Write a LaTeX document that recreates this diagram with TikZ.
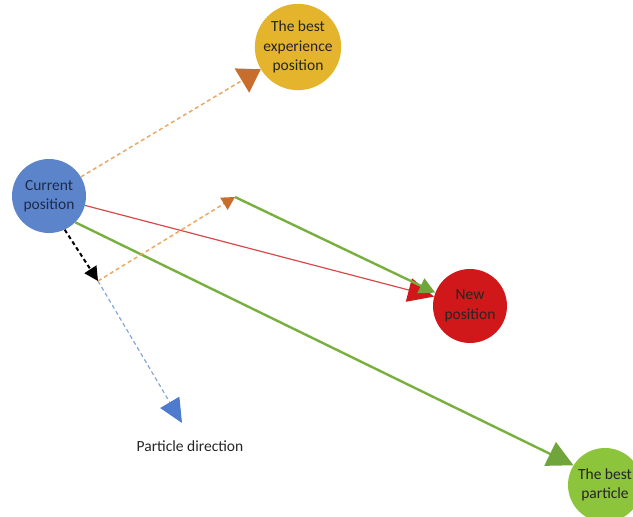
\documentclass[tikz,border=0pt]{standalone}
\usepackage{fontspec}
\setmainfont{Carlito}
\usetikzlibrary{arrows.meta}
\definecolor{cblue}{HTML}{5B84CB}
\definecolor{cyellow}{HTML}{E4B52C}
\definecolor{cred}{HTML}{D0181A}
\definecolor{cgreen}{HTML}{8CC43C}
\definecolor{gline}{HTML}{78B040}
\definecolor{lorange}{HTML}{E8A866}
\definecolor{dorange}{HTML}{C86E2C}
\definecolor{dgreen}{HTML}{6FA53A}
\definecolor{lblue}{HTML}{86A6DC}
\definecolor{tblue}{HTML}{4F7BCF}
\definecolor{lred}{HTML}{D84A4A}
\definecolor{txt}{HTML}{252525}
\definecolor{navytxt}{HTML}{1E2B4A}
\tikzset{
  ball/.style={circle, minimum size=74pt, inner sep=0pt, align=center, text=txt,
    font=\fontsize{15.5}{19.5}\selectfont},
  orangearrow/.style={draw=lorange, line width=1.5pt, dash pattern=on 4pt off 3pt,
    -{Triangle[length=22pt,width=28pt,fill=dorange,color=dorange]}},
  greenarrow/.style={draw=gline, line width=2.4pt,
    -{Triangle[length=16pt,width=16pt,fill=dgreen,color=dgreen]}},
}
\begin{document}
\begin{tikzpicture}[x=1pt,y=-1pt]
\useasboundingbox (0,0) rectangle (633,517);
\clip (0,0) rectangle (633,517);
\node[ball, fill=cblue, text=navytxt] (cur) at (49,196) {Current\\position};
\node[ball, fill=cyellow] (bexp) at (298,47) {The best\\experience\\position};
\node[ball, fill=cred] (new) at (470,306) {New\\position};
\node[ball, fill=cgreen] (bpart) at (605,485) {The best\\particle};
\coordinate (p1) at (98,281);
\coordinate (p2) at (182,423);
\coordinate (p3) at (235,197);
\node[font=\fontsize{15.5}{19.5}\selectfont, text=txt] (lab) at (190,446) {Particle direction};
% arrows
\draw[orangearrow] (cur) -- (bexp);
\draw[draw=lred, line width=1.2pt,
  -{Triangle[length=26pt,width=24pt,fill=cred,color=cred]}] (cur) -- (new);
\draw[greenarrow] (p3) -- (new.159);
\draw[greenarrow, -{Triangle[length=26pt,width=26pt,fill=dgreen,color=dgreen]}] (cur.-45) -- (bpart.148);
\draw[draw=lblue, line width=1.2pt, dash pattern=on 4pt off 3pt,
  -{Triangle[length=24pt,width=22pt,fill=tblue,color=tblue]}] (p1) -- (p2);
\draw[orangearrow, -{Triangle[length=13pt,width=14pt,fill=dorange,color=dorange]}] (p1) -- (p3);
\draw[draw=black, line width=2pt, dash pattern=on 4pt off 3pt,
  -{Triangle[length=14pt,width=14pt,fill=black]}] (cur.-65) -- (p1);
\end{tikzpicture}
\end{document}
